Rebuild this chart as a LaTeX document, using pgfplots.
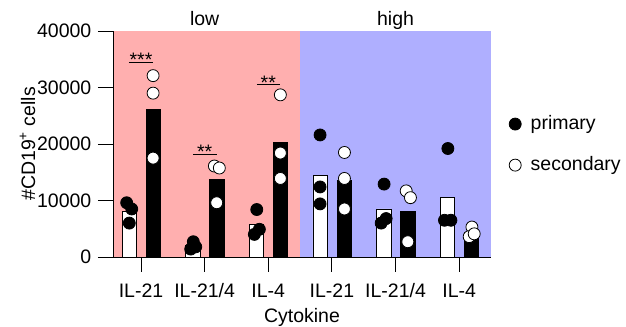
\documentclass[border=0pt]{standalone}
\usepackage{fontspec}
\setmainfont{Liberation Sans}
\usepackage{pgfplots}
\pgfplotsset{compat=1.18}
\usetikzlibrary{calc}
\definecolor{pinkbg}{RGB}{255,175,175}
\definecolor{bluebg}{RGB}{175,175,255}
\newcommand{\fs}{\fontsize{19.5}{23}\selectfont}
\begin{document}
\fs
\begin{tikzpicture}
\begin{axis}[
  name=ax,
  scale only axis, width=378pt, height=226pt,
  xmin=-0.44, xmax=5.5, ymin=0, ymax=40000,
  axis x line=bottom, axis y line=left,
  axis line style={-, line width=0.9pt},
  axis on top,
  clip=false,
  tick align=outside, major tick length=15pt,
  tick style={black, line width=0.9pt},
  xtick={0,...,5},
  xticklabels={IL-21,IL-21/4,IL-4,IL-21,IL-21/4,IL-4},
  ytick={0,10000,20000,30000,40000},
  scaled y ticks=false,
  /pgf/number format/1000 sep={},
  /pgf/number format/assume math mode=true,
  tick label style={font=\fs},
  label style={font=\fs},
  xticklabel style={anchor=base, yshift=-26pt},
  yticklabel style={anchor=east},
  xlabel={Cytokine},
  ylabel={\#CD19\textsuperscript{+} cells},
  every axis x label/.style={at={(axis description cs:0.5,0)}, anchor=base, yshift=-66pt},
  every axis y label/.style={at={(axis description cs:-0.226,0.5)}, rotate=90, anchor=center},
  legend cell align=left,
  legend image code/.code={\draw[mark repeat=2,mark phase=2,#1] plot coordinates {(0cm,0cm) (0.3cm,0cm) (0.6cm,0cm)}; \path[draw=none] (0.6cm,0cm) -- ++(5pt,0pt);},
  legend style={draw=none, fill=none, at={(axis description cs:1.0,0.504)}, anchor=west, xshift=15pt, yshift=-1.5pt, row sep=20pt, font=\fs},
]
\fill[pinkbg] (axis cs:-0.44,0) rectangle (axis cs:2.5,40000);
\fill[bluebg] (axis cs:2.5,0) rectangle (axis cs:5.5,40000);
% bars primary (white)
\addplot[ybar, bar width=0.225, bar shift=0pt, fill=white, draw=black, line width=0.8pt, forget plot]
  coordinates {(-0.185,8000) (0.815,2000) (1.815,5800) (2.815,14400) (3.815,8500) (4.815,10600)};
% bars secondary (black)
\addplot[ybar, bar width=0.225, bar shift=0pt, fill=black, draw=black, line width=0.8pt, forget plot]
  coordinates {(0.195,26100) (1.195,13700) (2.195,20300) (3.195,13600) (4.195,8100) (5.195,4300)};
% primary dots
\addplot[only marks, mark=*, mark size=6pt, mark options={fill=black, draw=black, line width=0.8pt}]
  coordinates {
  (-0.225,9600) (-0.146,8500) (-0.184,6000)
  (0.822,2700) (0.781,1400) (0.86,1800)
  (1.819,8400) (1.86,4900) (1.781,4000)
  (2.814,21600) (2.814,12400) (2.814,9400)
  (3.82,12900) (3.852,6800) (3.774,6000)
  (4.822,19200) (4.769,6500) (4.87,6500)};
\addlegendentry{primary}
% secondary dots
\addplot[only marks, mark=*, mark size=6pt, mark options={fill=white, draw=black, line width=0.8pt}]
  coordinates {
  (0.19,32100) (0.19,29000) (0.19,17500)
  (1.153,16100) (1.231,15750) (1.19,9600)
  (2.19,28700) (2.19,18400) (2.19,13900)
  (3.197,18500) (3.197,13900) (3.197,8500)
  (4.167,11700) (4.234,10500) (4.193,2700)
  (5.2,5300) (5.157,3600) (5.236,4100)};
\addlegendentry{secondary}
% significance
\draw[line width=0.9pt] (axis cs:-0.19,34500) -- (axis cs:0.185,34500);
\node[anchor=base, yshift=-4.5pt, font=\fs] at (axis cs:0,34500) {***};
\draw[line width=0.9pt] (axis cs:0.82,18200) -- (axis cs:1.19,18200);
\node[anchor=base, yshift=-4.5pt, font=\fs] at (axis cs:1,18200) {**};
\draw[line width=0.9pt] (axis cs:1.82,30500) -- (axis cs:2.19,30500);
\node[anchor=base, yshift=-4.5pt, font=\fs] at (axis cs:2,30500) {**};
% titles
\node[anchor=base, yshift=5pt, font=\fs] at (axis cs:1,40000) {low};
\node[anchor=base, yshift=5pt, font=\fs] at (axis cs:4,40000) {high};
\end{axis}
\pgfresetboundingbox
\path ($(ax.south west)+(-113pt,-70pt)$) rectangle ($(ax.north east)+(135pt,31pt)$);
\end{tikzpicture}
\end{document}
